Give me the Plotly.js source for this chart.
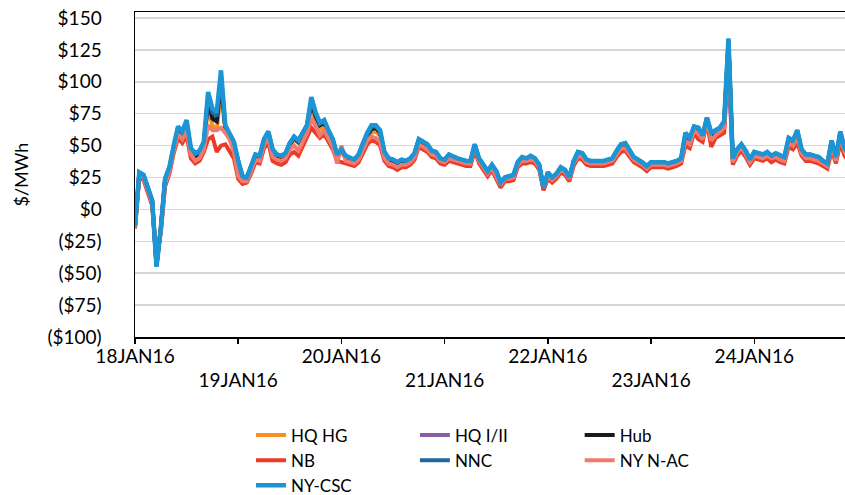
<!DOCTYPE html>
<html><head><meta charset="utf-8">
<script src="https://cdn.plot.ly/plotly-3.0.1.min.js"></script>
<style>html,body{margin:0;padding:0;background:#fff}#chart{width:845px;height:495px}</style>
</head><body><div id="chart"></div>
<script>
// Hourly prices, 18 JAN 2016 00:00 onward ($/MWh)
const startUTC = Date.UTC(2016, 0, 18, 0, 0, 0);

const seriesNames = ['HQ HG', 'HQ I/II', 'Hub', 'NB', 'NNC', 'NY N-AC', 'NY-CSC'];
const seriesColors = ['#f7901e', '#8a5ca8', '#1a1a1a', '#ec3a26', '#23679b', '#f17a6e', '#1b95d3'];
// legend column each series sits in (3 columns, row-major like the original)
const seriesLegend = ['legend', 'legend2', 'legend3', 'legend', 'legend2', 'legend3', 'legend'];
const yTitle = '$/MWh';

const hqHG = [
 -14, 28, 26, 17, 6, -43, -16, 22, 31, 47, 61, 57, 65, 45, 41, 43, 49, 80, 66, 62, 92, 62, 57, 49,
 36, 24, 24, 31, 41, 40, 53, 58, 45, 41, 40, 42, 50, 55, 52, 57, 63, 80, 70, 63, 65, 58, 52, 41,
 45, 40, 38, 37, 41, 50, 56, 60, 61, 58, 43, 38, 37, 35, 37, 36, 38, 42, 53, 51, 49, 44, 43, 38,
 37, 41, 39, 38, 37, 36, 36, 49, 38, 33, 28, 33, 28, 19, 24, 24, 25, 35, 39, 38, 40, 38, 33, 16,
 27, 23, 26, 31, 29, 23, 36, 43, 42, 37, 36, 36, 36, 36, 37, 38, 44, 49, 50, 44, 39, 37, 35, 32,
 35, 35, 35, 35, 34, 35, 36, 38, 57, 54, 63, 61, 56, 70, 57, 60, 62, 66, 128, 38, 45, 49, 44, 37,
 43, 42, 41, 43, 40, 42, 40, 39, 53, 50, 57, 45, 41, 41, 40, 39, 36, 34, 51, 39, 58, 46, 41, 38];

const hqI_II = [
 -13, 28, 26, 17, 6, -44, -15, 23, 32, 48, 63, 59, 67, 46, 42, 44, 51, 85, 72, 70, 99, 64, 58, 51,
 37, 25, 24, 32, 42, 41, 54, 60, 46, 42, 41, 43, 51, 56, 53, 59, 65, 83, 73, 66, 68, 60, 54, 42,
 46, 41, 39, 38, 42, 51, 58, 63, 64, 60, 44, 39, 38, 36, 38, 37, 39, 43, 54, 52, 50, 45, 44, 39,
 38, 42, 40, 39, 38, 37, 37, 50, 39, 34, 29, 34, 29, 20, 24, 25, 26, 36, 40, 39, 41, 39, 34, 16,
 28, 24, 27, 32, 30, 24, 37, 44, 43, 38, 37, 37, 37, 37, 38, 39, 45, 50, 51, 45, 40, 38, 36, 33,
 36, 36, 36, 36, 35, 36, 37, 39, 58, 55, 64, 62, 57, 71, 58, 61, 63, 67, 130, 39, 46, 50, 45, 38,
 44, 43, 42, 44, 41, 43, 41, 40, 54, 52, 59, 46, 42, 42, 41, 40, 37, 35, 52, 40, 59, 47, 42, 39];

const hub = [
 -13, 28, 26, 17, 6, -44, -15, 23, 32, 48, 63, 59, 67, 46, 42, 44, 51, 86, 71, 69, 100, 64, 58, 51,
 37, 25, 24, 32, 42, 41, 54, 60, 46, 42, 41, 43, 51, 56, 53, 59, 65, 84, 73, 66, 68, 60, 54, 42,
 46, 41, 39, 38, 42, 51, 58, 63, 64, 60, 44, 39, 38, 36, 38, 37, 39, 43, 54, 52, 50, 45, 44, 39,
 38, 42, 40, 39, 38, 37, 37, 50, 39, 34, 29, 34, 29, 20, 24, 25, 26, 36, 40, 39, 41, 39, 34, 16,
 28, 24, 27, 32, 30, 24, 37, 44, 43, 38, 37, 37, 37, 37, 38, 39, 45, 50, 51, 45, 40, 38, 36, 33,
 36, 36, 36, 36, 35, 36, 37, 39, 58, 55, 64, 62, 57, 71, 58, 61, 63, 67, 130, 39, 46, 50, 45, 38,
 44, 43, 42, 44, 41, 43, 41, 40, 54, 52, 59, 46, 42, 42, 41, 40, 37, 35, 52, 40, 59, 47, 42, 39];

const nb = [
 -15, 25, 23, 14, 3, -38, -18, 18, 28, 44, 56, 52, 58, 40, 36, 38, 45, 55, 57, 45, 50, 51, 46, 40,
 24, 20, 21, 28, 37, 36, 48, 52, 38, 36, 35, 37, 43, 45, 42, 50, 58, 64, 60, 56, 59, 53, 47, 38,
 37, 36, 35, 34, 37, 45, 51, 54, 53, 50, 38, 34, 33, 31, 33, 33, 35, 39, 49, 47, 45, 41, 40, 36,
 35, 38, 37, 36, 35, 34, 34, 46, 36, 31, 26, 31, 24, 17, 22, 22, 23, 33, 36, 36, 37, 36, 31, 15,
 24, 21, 24, 29, 27, 22, 34, 40, 39, 35, 34, 34, 34, 34, 35, 36, 41, 45, 46, 41, 37, 35, 33, 30,
 33, 33, 33, 33, 32, 33, 34, 36, 50, 48, 60, 55, 53, 68, 49, 56, 58, 60, 115, 35, 42, 46, 41, 35,
 40, 39, 38, 40, 37, 39, 37, 36, 49, 47, 52, 42, 38, 38, 37, 36, 34, 32, 46, 36, 52, 42, 38, 36];

const nnc = [
 -13, 29, 27, 18, 7, -44, -15, 24, 33, 49, 64, 60, 69, 47, 43, 45, 52, 90, 76, 73, 105, 65, 59, 52,
 38, 26, 25, 33, 43, 42, 55, 61, 47, 43, 42, 44, 52, 57, 54, 60, 66, 86, 75, 67, 69, 61, 55, 43,
 47, 42, 40, 39, 43, 52, 59, 65, 65, 61, 45, 40, 39, 37, 39, 38, 40, 44, 55, 53, 51, 46, 45, 40,
 39, 43, 41, 40, 39, 38, 38, 51, 40, 35, 30, 35, 30, 21, 25, 26, 27, 37, 41, 40, 42, 40, 35, 17,
 29, 25, 28, 33, 31, 25, 38, 45, 44, 39, 38, 38, 38, 38, 39, 40, 46, 51, 52, 46, 41, 39, 37, 34,
 37, 37, 37, 37, 36, 37, 38, 40, 60, 56, 65, 64, 58, 72, 60, 62, 64, 69, 133, 40, 47, 51, 46, 39,
 45, 44, 43, 45, 42, 44, 42, 41, 56, 54, 62, 47, 43, 43, 42, 41, 38, 36, 54, 41, 61, 48, 43, 40];

const nyNAC = [
 -14, 27, 25, 16, 5, -40, -17, 20, 30, 46, 59, 55, 62, 43, 38, 40, 47, 66, 62, 62, 64, 60, 55, 45,
 26, 22, 22, 30, 39, 38, 51, 56, 41, 39, 38, 40, 47, 50, 46, 53, 60, 72, 64, 58, 62, 55, 49, 36,
 50, 38, 37, 36, 39, 47, 54, 57, 56, 53, 40, 36, 35, 33, 35, 35, 37, 41, 51, 49, 47, 43, 42, 38,
 37, 40, 39, 38, 37, 36, 36, 50, 38, 33, 28, 33, 26, 19, 24, 24, 25, 35, 38, 38, 39, 38, 33, 17,
 26, 23, 26, 31, 29, 24, 36, 42, 41, 37, 36, 36, 36, 36, 37, 38, 43, 48, 48, 43, 39, 37, 35, 32,
 35, 35, 35, 35, 34, 35, 36, 38, 54, 51, 62, 59, 55, 70, 54, 58, 61, 64, 125, 37, 44, 49, 43, 37,
 42, 41, 40, 42, 40, 41, 39, 38, 52, 50, 57, 44, 40, 40, 39, 38, 36, 34, 50, 38, 57, 45, 40, 38];

const nyCSC = [
 -13, 29, 27, 18, 7, -45, -15, 24, 33, 50, 65, 61, 70, 48, 44, 46, 53, 92, 79, 76, 109, 66, 60, 53,
 38, 26, 25, 33, 43, 42, 55, 61, 47, 43, 42, 44, 52, 57, 54, 60, 66, 88, 76, 68, 70, 62, 55, 43,
 47, 42, 40, 39, 43, 52, 60, 66, 66, 62, 45, 40, 39, 37, 39, 38, 40, 44, 55, 53, 51, 46, 45, 40,
 39, 43, 41, 40, 39, 38, 38, 51, 40, 35, 30, 35, 30, 21, 25, 26, 27, 37, 41, 40, 42, 40, 35, 17,
 29, 25, 28, 33, 31, 25, 38, 45, 44, 39, 38, 38, 38, 38, 39, 40, 46, 51, 52, 46, 41, 39, 37, 34,
 37, 37, 37, 37, 36, 37, 38, 40, 60, 56, 65, 64, 58, 72, 60, 62, 64, 69, 134, 40, 47, 51, 46, 39,
 45, 44, 43, 45, 42, 44, 42, 41, 56, 54, 62, 47, 43, 43, 42, 41, 38, 36, 54, 41, 61, 48, 43, 40];

const dayTicks = ['2016-01-18', '2016-01-19', '2016-01-20', '2016-01-21', '2016-01-22', '2016-01-23', '2016-01-24'];
const dayLabels = ['18JAN16', '19JAN16', '20JAN16', '21JAN16', '22JAN16', '23JAN16', '24JAN16'];
const yTickVals = [150, 125, 100, 75, 50, 25, 0, -25, -50, -75, -100];
const yTickLabels = ['$150', '$125', '$100', '$75', '$50', '$25', '$0', '($25)', '($50)', '($75)', '($100)'];

const seriesData = [hqHG, hqI_II, hub, nb, nnc, nyNAC, nyCSC];

function hourStamps(n) {
  const out = [];
  for (let i = 0; i < n; i++) {
    const d = new Date(startUTC + i * 3600000);
    out.push(d.toISOString().slice(0, 16).replace('T', ' '));
  }
  return out;
}
const times = hourStamps(nyCSC.length);

const FONT = 'Lato, "Open Sans", sans-serif';
const xRange = ['2016-01-18 00:00', '2016-01-24 21:06'];

const traces = seriesNames.map((name, i) => ({
  type: 'scatter', mode: 'lines', name: name,
  x: times, y: seriesData[i],
  line: {color: seriesColors[i], width: i === 6 ? 4.5 : 4},
  xaxis: 'x', yaxis: 'y', legend: seriesLegend[i]
}));
// carrier for the second (staggered) row of date labels, on its own hidden y axis
const oddDays = dayTicks.filter((t, i) => i % 2 === 1);
traces.push({
  type: 'scatter', mode: 'lines', x: oddDays, y: oddDays.map(() => null),
  xaxis: 'x2', yaxis: 'y2', showlegend: false, hoverinfo: 'skip'
});

const legendBase = {
  orientation: 'v', xref: 'container', yref: 'container',
  xanchor: 'left', yanchor: 'top', y: 0.1566,
  font: {family: FONT, size: 17, color: '#000'},
  bgcolor: 'rgba(0,0,0,0)', borderwidth: 0, traceorder: 'normal'
};

const layout = {
  width: 845, height: 495,
  margin: {l: 135, r: 0, t: 12, b: 158, autoexpand: false},
  paper_bgcolor: '#ffffff', plot_bgcolor: '#ffffff',
  font: {family: FONT, size: 19, color: '#000000'},
  showlegend: true,
  xaxis: {
    type: 'date', range: xRange,
    tickmode: 'array', tickvals: dayTicks,
    ticktext: dayLabels.map((t, i) => i % 2 === 0 ? t : ''),
    ticks: 'outside', ticklen: 5, tickwidth: 1.5, tickcolor: '#000',
    ticklabelstandoff: -3,
    showline: true, linecolor: '#000', linewidth: 1.5, mirror: true,
    showgrid: false, zeroline: false,
    tickfont: {family: FONT, size: 19, color: '#000'}
  },
  xaxis2: {
    type: 'date', overlaying: 'x', anchor: 'y2', side: 'bottom',
    range: xRange,
    tickmode: 'array', tickvals: oddDays,
    ticktext: dayLabels.filter((t, i) => i % 2 === 1),
    ticks: '', showline: false, showgrid: false, zeroline: false,
    ticklabelstandoff: 30,
    tickfont: {family: FONT, size: 19, color: '#000'}
  },
  yaxis: {
    range: [-100, 154.7],
    tickmode: 'array', tickvals: yTickVals, ticktext: yTickLabels,
    ticks: '', ticklabelstandoff: 28,
    showline: true, linecolor: '#000', linewidth: 1.5,
    showgrid: true, gridcolor: '#d6d6d6', gridwidth: 1.5,
    zeroline: false,
    tickfont: {family: FONT, size: 19, color: '#000'}
  },
  yaxis2: {
    overlaying: 'y', anchor: 'x2', range: [0, 1],
    showticklabels: false, showgrid: false, zeroline: false, showline: false, ticks: ''
  },
  annotations: [{
    text: yTitle, xref: 'paper', yref: 'paper', x: -0.1606, y: 0.5,
    xanchor: 'center', yanchor: 'middle', textangle: -90, showarrow: false,
    font: {family: FONT, size: 18, color: '#000'}
  }],
  legend: Object.assign({}, legendBase, {x: 0.297}),
  legend2: Object.assign({}, legendBase, {x: 0.491}),
  legend3: Object.assign({}, legendBase, {x: 0.686})
};

Plotly.newPlot('chart', traces, layout, {displayModeBar: false, staticPlot: true});
</script>
</body></html>
